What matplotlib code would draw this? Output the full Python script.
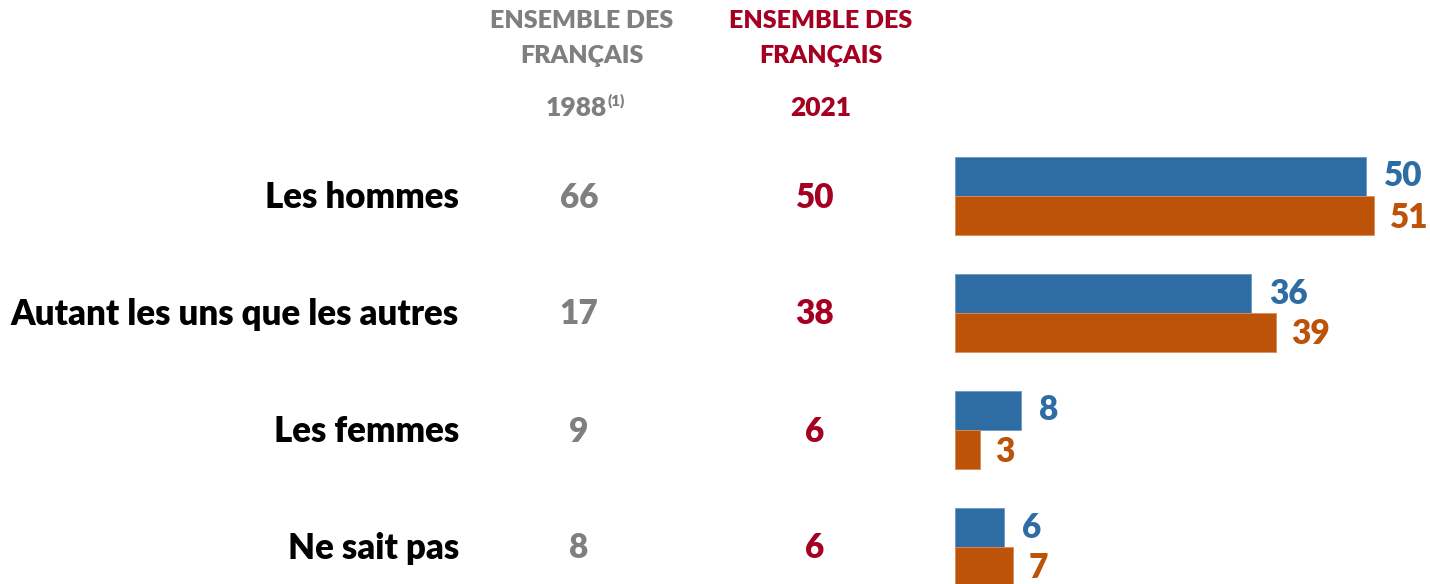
import matplotlib
matplotlib.use("Agg")
import matplotlib.pyplot as plt
import matplotlib.transforms as mtransforms

# --- data -------------------------------------------------------------
categories = ["Les hommes", "Autant les uns que les autres", "Les femmes", "Ne sait pas"]
values_1988 = [66, 17, 9, 8]
values_2021 = [50, 38, 6, 6]
series_blue = [50, 36, 8, 6]
series_orange = [51, 39, 3, 7]
header_1988 = ["ENSEMBLE DES", "FRANÇAIS", "1988", "(1)"]
header_2021 = ["ENSEMBLE DES", "FRANÇAIS", "2021"]

# --- style ------------------------------------------------------------
FONT = "Lato"
WEIGHT = "heavy"
GREY = "#7f7f7f"
RED = "#a50021"
BLUE = "#2e6ca4"
ORANGE = "#bd5309"
BLACK = "#000000"

W, H = 1430, 584
fig = plt.figure(figsize=(W / 100, H / 100), dpi=100)

# bar axes: y axis runs in pixel rows from the top of the figure
ax = fig.add_axes([955 / W, 0, 470 / W, 1])
ax.set_xlim(0, 470 / 8.22)
ax.set_ylim(H, 0)
ax.axis("off")

row_top = 157
row_pitch = 117
bar_h = 39

blend = mtransforms.blended_transform_factory(fig.transFigure, ax.transData)

for i, cat in enumerate(categories):
    top = row_top + i * row_pitch
    yb = top + bar_h / 2
    yo = top + bar_h * 1.5
    ymid = top + bar_h + 1.5

    ax.barh(yb, series_blue[i], height=bar_h, color=BLUE, edgecolor="#6d98c4", linewidth=0.6)
    ax.barh(yo, series_orange[i], height=bar_h, color=ORANGE, edgecolor="#d98d5c", linewidth=0.6)

    ax.annotate(str(series_blue[i]), (series_blue[i], yb), xytext=(18, 0),
                textcoords="offset pixels", ha="left", va="center",
                fontsize=24, fontweight=WEIGHT, family=FONT, color=BLUE)
    ax.annotate(str(series_orange[i]), (series_orange[i], yo + 2), xytext=(16, 0),
                textcoords="offset pixels", ha="left", va="center",
                fontsize=24, fontweight=WEIGHT, family=FONT, color=ORANGE)

    ax.text(459 / W, ymid, cat, transform=blend, ha="right", va="center",
            fontsize=25, fontweight=WEIGHT, family=FONT, color=BLACK, clip_on=False)
    ax.text(579 / W, ymid, str(values_1988[i]), transform=blend, ha="center", va="center",
            fontsize=24, fontweight=WEIGHT, family=FONT, color=GREY, clip_on=False)
    ax.text(815 / W, ymid, str(values_2021[i]), transform=blend, ha="center", va="center",
            fontsize=24, fontweight=WEIGHT, family=FONT, color=RED, clip_on=False)

# column headers
hdr_kw = dict(fontsize=18, fontweight=WEIGHT, family=FONT, ha="center", va="center")
yr_kw = dict(hdr_kw, fontsize=19)
fig.text(582 / W, 1 - 21 / H, header_1988[0], color=GREY, **hdr_kw)
fig.text(582 / W, 1 - 56 / H, header_1988[1], color=GREY, **hdr_kw)
t1988 = fig.text(576 / W, 1 - 108 / H, header_1988[2], color=GREY, **yr_kw)
fig.text(821 / W, 1 - 21 / H, header_2021[0], color=RED, **hdr_kw)
fig.text(821 / W, 1 - 56 / H, header_2021[1], color=RED, **hdr_kw)
fig.text(821 / W, 1 - 108 / H, header_2021[2], color=RED, **yr_kw)

renderer = fig.canvas.get_renderer()
bb = t1988.get_window_extent(renderer)
fig.text(bb.x1 / W + 1 / W, 1 - 101 / H, header_1988[3], color=GREY,
         fontsize=11, fontweight=WEIGHT, family=FONT, ha="left", va="center")

fig.savefig("out.png", dpi=100)
